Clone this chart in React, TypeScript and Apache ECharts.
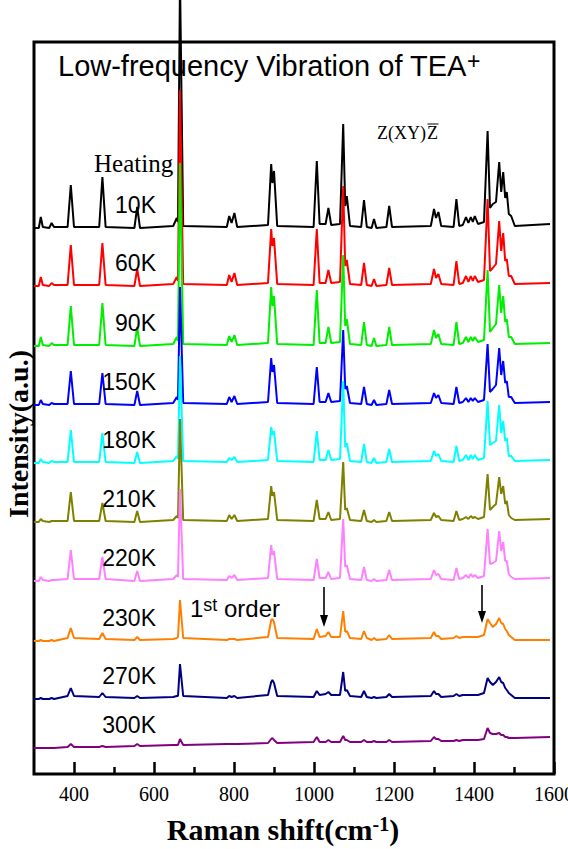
import React, { useEffect, useRef } from "react";
import * as echarts from "echarts";

// Raman shift sample positions (cm-1) shared by all spectra
const shifts = [
  300, 312, 317, 322, 338, 344, 350, 384, 392, 400,
  463, 471, 479, 551, 558, 565, 648, 657, 660, 665,
  673, 782, 788, 794, 801, 808, 885, 893, 896, 900,
  908, 999, 1007, 1014, 1029, 1036, 1043, 1065, 1073, 1078,
  1082, 1090, 1118, 1125, 1132, 1144, 1150, 1156, 1181, 1188,
  1195, 1292, 1300, 1305, 1311, 1318, 1349, 1356, 1363, 1372,
  1380, 1386, 1392, 1397, 1402, 1410, 1425, 1434, 1440, 1447,
  1455, 1463, 1468, 1473, 1478, 1482, 1487, 1493, 1502, 1590,
];

const temperatures = ["10K", "60K", "90K", "150K", "180K", "210K", "220K", "230K", "270K", "300K"];

// vertical offset of each spectrum (a.u.)
const baselines = [546, 488, 428, 369, 311, 252, 193, 133, 75, 26];

// intensity above baseline at each shift (a.u.)
const h10K = [
  0, 0, 11, 1, 0, 5, 1, 1, 43, 1,
  1, 51, 1, 0, 21, 0, 2, 10, 6, 250,
  2, 1, 12, 5, 15, 1, 3, 64, 45, 57,
  2, 1, 67, 4, 4, 20, 3, 4, 104, 22,
  32, 2, 1, 28, 1, 0, 9, 0, 1, 22,
  1, 2, 19, 10, 16, 2, 1, 29, 2, 3,
  11, 5, 11, 6, 12, 4, 6, 97, 20, 24,
  26, 66, 36, 56, 30, 36, 14, 12, 2, 4,
];
const h60K = [
  0, 0, 9, 1, 0, 3, 1, 1, 41, 1,
  1, 43, 1, 0, 17, 0, 2, 9, 5, 196,
  2, 1, 11, 4, 13, 1, 3, 57, 40, 48,
  2, 1, 57, 3, 3, 16, 3, 4, 100, 20,
  26, 2, 1, 23, 1, 0, 7, 0, 1, 18,
  1, 2, 17, 8, 12, 2, 1, 25, 2, 3,
  10, 4, 10, 5, 10, 4, 6, 87, 15, 18,
  22, 65, 35, 53, 25, 27, 10, 10, 2, 3,
];
const h90K = [
  0, 0, 9, 1, 0, 3, 1, 1, 40, 1,
  1, 43, 1, 0, 19, 0, 2, 9, 5, 183,
  2, 1, 10, 4, 11, 1, 3, 59, 40, 50,
  2, 1, 56, 3, 3, 19, 3, 4, 91, 20,
  27, 2, 1, 24, 1, 0, 8, 0, 1, 19,
  1, 2, 16, 8, 12, 2, 1, 24, 2, 3,
  9, 4, 9, 5, 9, 4, 6, 76, 14, 18,
  22, 61, 33, 50, 24, 27, 9, 9, 2, 3,
];
const h150K = [
  0, 0, 5, 1, 0, 2, 1, 1, 34, 1,
  1, 32, 1, 0, 14, 0, 2, 8, 5, 118,
  2, 1, 8, 3, 9, 1, 3, 47, 33, 40,
  2, 1, 38, 3, 3, 12, 3, 4, 75, 16,
  19, 2, 1, 18, 1, 0, 5, 0, 1, 15,
  1, 2, 12, 7, 10, 2, 1, 18, 2, 3,
  7, 3, 7, 4, 7, 3, 5, 61, 13, 16,
  20, 57, 30, 44, 22, 24, 8, 8, 2, 3,
];
const h180K = [
  0, 0, 4, 1, 0, 2, 1, 1, 33, 1,
  1, 30, 1, 0, 11, 0, 2, 7, 4, 107,
  2, 1, 5, 3, 6, 1, 3, 36, 28, 32,
  2, 1, 32, 3, 3, 13, 3, 4, 82, 16,
  20, 2, 1, 19, 1, 0, 5, 0, 1, 14,
  1, 2, 12, 7, 9, 2, 1, 17, 2, 3,
  8, 3, 8, 4, 8, 3, 5, 62, 18, 20,
  22, 58, 30, 42, 22, 25, 7, 7, 2, 3,
];
const h210K = [
  0, 0, 3, 1, 0, 1, 1, 1, 30, 1,
  1, 19, 1, 0, 11, 0, 2, 6, 4, 103,
  2, 1, 7, 3, 7, 1, 3, 36, 26, 30,
  2, 1, 22, 3, 3, 10, 2, 3, 60, 12,
  14, 2, 1, 12, 1, 0, 2, 0, 1, 10,
  1, 2, 9, 5, 6, 2, 1, 11, 2, 3,
  5, 3, 6, 4, 5, 3, 5, 48, 12, 15,
  18, 45, 28, 36, 18, 21, 7, 4, 2, 3,
];
const h220K = [
  0, 0, 4, 1, 0, 1, 1, 2, 31, 2,
  2, 24, 2, 0, 10, 0, 2, 6, 4, 92,
  2, 1, 5, 3, 6, 1, 3, 36, 26, 30,
  2, 1, 22, 3, 3, 9, 2, 3, 62, 14,
  16, 2, 1, 14, 1, 0, 2, 0, 1, 11,
  1, 2, 11, 6, 7, 2, 1, 13, 2, 3,
  6, 3, 7, 4, 6, 3, 5, 52, 17, 18,
  20, 50, 30, 39, 20, 20, 7, 4, 2, 3,
];
const h230K = [
  0, 0, 1, 0, 0, 1, 0, 3, 13, 3,
  2, 8, 2, 1, 4, 1, 2, 3, 4, 41,
  3, 1, 2, 2, 2, 1, 4, 21, 22, 19,
  3, 2, 12, 4, 5, 9, 4, 4, 30, 9,
  10, 3, 2, 10, 3, 1, 3, 1, 2, 6,
  2, 3, 9, 5, 5, 2, 3, 5, 3, 4,
  4, 4, 4, 4, 4, 4, 6, 22, 18, 14,
  17, 23, 18, 17, 12, 10, 6, 4, 1, 1,
];
const h270K = [
  0, 0, 1, 0, 0, 1, 0, 3, 11, 3,
  2, 6, 2, 1, 3, 1, 2, 3, 3, 35,
  3, 1, 3, 2, 3, 1, 4, 17, 19, 16,
  3, 2, 8, 4, 5, 7, 4, 4, 27, 8,
  9, 3, 2, 8, 2, 1, 2, 1, 2, 5,
  2, 3, 8, 5, 5, 2, 3, 5, 3, 4,
  4, 4, 4, 4, 4, 4, 6, 21, 17, 14,
  17, 22, 17, 16, 11, 9, 6, 4, 1, 1,
];
const h300K = [
  0, 0, 0, 0, 0, 0, 0, 1, 4, 1,
  1, 2, 1, 2, 4, 2, 3, 3, 3, 9,
  3, 4, 4, 4, 4, 4, 5, 9, 10, 8,
  5, 6, 11, 6, 6, 8, 6, 6, 12, 8,
  8, 6, 6, 8, 6, 6, 7, 6, 6, 8,
  6, 7, 11, 9, 9, 7, 7, 8, 7, 8,
  8, 8, 8, 8, 8, 8, 9, 20, 15, 14,
  14, 15, 13, 13, 11, 11, 10, 10, 10, 11,
];

const heights = [h10K, h60K, h90K, h150K, h180K, h210K, h220K, h230K, h270K, h300K];

const majorTicks = [400, 600, 800, 1000, 1200, 1400, 1600];
const minorTicks = [500, 700, 900, 1100, 1300, 1500];

const colors = ["#000000", "#ff0000", "#00ee00", "#0000ff", "#00ffff", "#808000", "#ff80ff", "#ff8000", "#000080", "#800080"];

const W = 568;
const H = 849;
const GRID_LEFT = 34;
const GRID_TOP = 42;
const GRID_RIGHT = 14;
const GRID_BOTTOM = 75;
const Y_MAX = 732;

const SANS = '"Liberation Sans", Arial, sans-serif';
const SERIF = '"Liberation Serif", "Times New Roman", serif';

export default function App() {
  const ref = useRef<HTMLDivElement>(null);

  useEffect(() => {
    if (!ref.current) return;
    document.documentElement.style.overflow = "hidden";
    document.body.style.overflow = "hidden";
    document.body.style.margin = "0";
    const chart = echarts.init(ref.current, undefined, { renderer: "svg", width: W, height: H });
    const plotH = H - GRID_TOP - GRID_BOTTOM;

    const series = heights.map((hs, k) => ({
      type: "line",
      name: temperatures[k],
      xAxisIndex: 0,
      yAxisIndex: 0,
      data: shifts.map((x, i) => [x, baselines[k] + hs[i]]),
      showSymbol: false,
      symbol: "none",
      clip: k !== 0,
      lineStyle: { color: colors[k], width: 2 },
      z: 2 + k,
    }));

    const tempLabels = temperatures.map((t, k) => ({
      type: "text",
      x: 156,
      y: GRID_TOP + ((Y_MAX - baselines[k]) / Y_MAX) * plotH - 23,
      style: {
        text: t,
        font: `23px ${SANS}`,
        fill: "#000",
        align: "right",
        verticalAlign: "middle",
      },
      z: 100,
    }));

    chart.setOption({
      animation: false,
      backgroundColor: "#fff",
      grid: {
        left: GRID_LEFT,
        top: GRID_TOP,
        right: GRID_RIGHT,
        bottom: GRID_BOTTOM,
        outerBoundsMode: "none",
        containLabel: false,
        show: true,
        borderColor: "#000",
        borderWidth: 3,
        backgroundColor: "transparent",
      },
      xAxis: [
        {
          type: "value",
          min: 300,
          max: 1600,
          position: "bottom",
          axisLine: { show: false },
          splitLine: { show: false },
          axisTick: {
            show: true,
            inside: true,
            length: 12,
            customValues: majorTicks,
            lineStyle: { color: "#000", width: 2.5 },
          },
          axisLabel: {
            show: true,
            customValues: majorTicks,
            formatter: (v: number) => String(v),
            margin: 10,
            color: "#000",
            fontSize: 20,
            fontFamily: SERIF,
          },
        },
        {
          type: "value",
          min: 300,
          max: 1600,
          position: "bottom",
          axisLine: { show: false },
          splitLine: { show: false },
          axisLabel: { show: false },
          axisTick: {
            show: true,
            inside: true,
            length: 7,
            customValues: minorTicks,
            lineStyle: { color: "#000", width: 2.5 },
          },
        },
      ],
      yAxis: {
        type: "value",
        min: 0,
        max: Y_MAX,
        show: false,
      },
      series,
      graphic: [
        {
          type: "text",
          x: 58,
          y: 66,
          style: {
            text: "{t|Low-frequency Vibration of TEA}{s|+}",
            fill: "#000",
            verticalAlign: "middle",
            align: "left",
            rich: {
              t: { fontSize: 29, fontFamily: SANS, fill: "#000" },
              s: { fontSize: 23, fontFamily: SANS, fill: "#000", verticalAlign: "top", padding: [0, 0, 10, 0] },
            },
          },
          z: 100,
        },
        {
          type: "text",
          x: 377,
          y: 133,
          style: { text: "Z(XY)", font: `18px ${SERIF}`, fill: "#000", align: "left", verticalAlign: "middle" },
          z: 100,
        },
        {
          type: "text",
          x: 427,
          y: 133,
          style: { text: "Z", font: `18px ${SERIF}`, fill: "#000", align: "left", verticalAlign: "middle" },
          z: 100,
        },
        {
          type: "line",
          shape: { x1: 427.5, y1: 124, x2: 438.5, y2: 124 },
          style: { stroke: "#000", lineWidth: 1 },
          z: 100,
        },
        {
          type: "text",
          x: 94,
          y: 163,
          style: { text: "Heating", font: `25px ${SERIF}`, fill: "#000", align: "left", verticalAlign: "middle" },
          z: 100,
        },
        ...tempLabels,
        {
          type: "text",
          x: 190,
          y: 608,
          style: {
            text: "{a|1}{b|st}{a| order}",
            fill: "#000",
            align: "left",
            verticalAlign: "middle",
            rich: {
              a: { fontSize: 24, fontFamily: SANS, fill: "#000" },
              b: { fontSize: 18, fontFamily: SANS, fill: "#000", verticalAlign: "top", padding: [0, 0, 4, 0] },
            },
          },
          z: 100,
        },
        {
          type: "line",
          shape: { x1: 324, y1: 587, x2: 324, y2: 617 },
          style: { stroke: "#000", lineWidth: 1.6 },
          z: 100,
        },
        {
          type: "polygon",
          shape: { points: [[320, 615], [328, 615], [324, 627]] },
          style: { fill: "#000" },
          z: 100,
        },
        {
          type: "line",
          shape: { x1: 482, y1: 585, x2: 482, y2: 613 },
          style: { stroke: "#000", lineWidth: 1.6 },
          z: 100,
        },
        {
          type: "polygon",
          shape: { points: [[478, 611], [486, 611], [482, 623]] },
          style: { fill: "#000" },
          z: 100,
        },
        {
          type: "text",
          x: 18,
          y: 434,
          rotation: Math.PI / 2,
          style: {
            text: "Intensity(a.u.)",
            font: `bold 28px ${SERIF}`,
            fill: "#000",
            align: "center",
            verticalAlign: "middle",
          },
          z: 100,
        },
        {
          type: "text",
          x: 283,
          y: 829,
          style: {
            text: "{a|Raman shift(cm}{b|-1}{a|)}",
            fill: "#000",
            align: "center",
            verticalAlign: "middle",
            rich: {
              a: { fontSize: 30, fontFamily: SERIF, fontWeight: "bold", fill: "#000" },
              b: { fontSize: 20, fontFamily: SERIF, fontWeight: "bold", fill: "#000", verticalAlign: "top" },
            },
          },
          z: 100,
        },
      ],
    });

    return () => chart.dispose();
  }, []);

  return (
    <div
      ref={ref}
      style={{ position: "absolute", left: 0, top: 0, width: W, height: H, background: "#fff" }}
    />
  );
}
